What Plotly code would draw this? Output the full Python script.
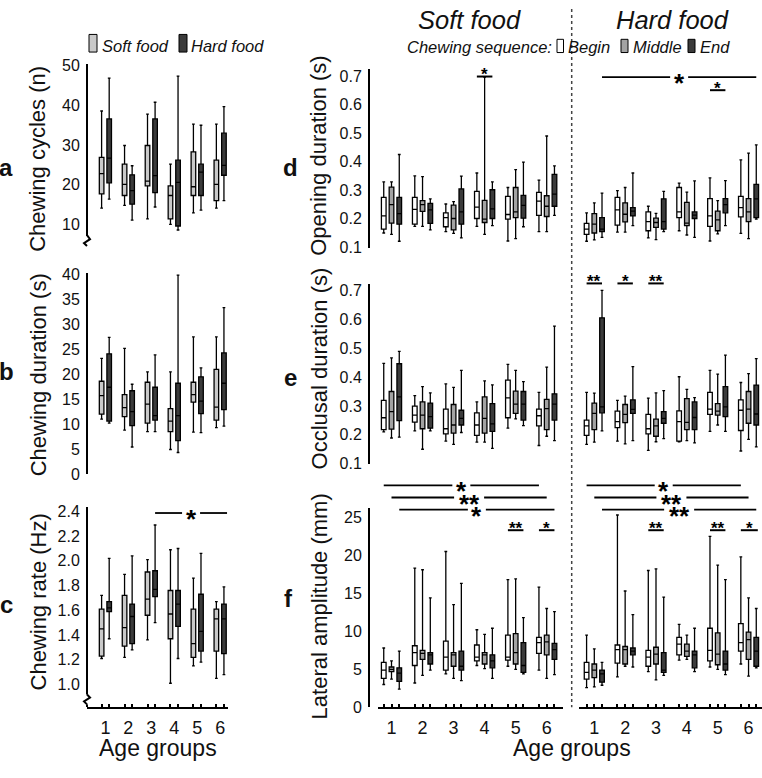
import plotly.graph_objects as go

W, H = 762, 778


def fx(px):
    return px / W


def fy(py):
    return 1 - py / H


AGE_GROUPS = [1, 2, 3, 4, 5, 6]
AGE_LABELS = ["1", "2", "3", "4", "5", "6"]

# each row: (lower whisker, Q1, median, Q3, upper whisker) for age groups 1..6
# a: chewing cycles (n)
a_soft = [(14.1, 17.7, 22.8, 26.9, 38.6), (14.8, 17.3, 20.1, 25.2, 29.9), (11.4, 19.7, 20.9, 29.9, 37.8),
          (10.0, 11.4, 17.3, 19.7, 25.2), (12.9, 17.3, 19.5, 28.3, 35.3), (14.1, 16.0, 20.1, 26.2, 35.3)]
a_hard = [(16.4, 20.5, 26.7, 36.6, 46.9), (11.1, 15.1, 18.5, 22.5, 24.8), (14.4, 18.0, 22.3, 36.6, 40.8),
          (8.6, 9.6, 20.6, 26.2, 47.4), (13.6, 17.3, 23.2, 25.2, 35.0), (16.0, 22.4, 24.9, 33.0, 39.7)]
# b: chewing duration (s)
b_soft = [(11.0, 12.0, 15.7, 18.6, 23.2), (8.8, 11.5, 13.3, 15.9, 25.2), (8.5, 10.2, 14.0, 18.4, 20.5),
          (4.9, 8.5, 10.6, 13.1, 20.5), (8.4, 14.4, 15.9, 18.4, 27.5), (9.3, 10.8, 13.4, 21.0, 27.5)]
b_hard = [(10.2, 10.6, 17.4, 24.1, 27.4), (5.4, 9.7, 12.5, 16.7, 18.0), (8.5, 10.8, 11.7, 17.4, 23.9),
          (4.3, 6.7, 11.7, 18.2, 39.9), (8.3, 12.1, 14.6, 19.5, 21.3), (9.6, 12.9, 18.2, 24.3, 33.4)]
# c: chewing rate (Hz)
c_soft = [(1.21, 1.23, 1.45, 1.61, 1.72), (1.22, 1.31, 1.46, 1.72, 1.89), (1.36, 1.56, 1.69, 1.91, 2.01),
          (1.01, 1.37, 1.57, 1.76, 2.09), (1.15, 1.22, 1.33, 1.61, 1.86), (1.05, 1.27, 1.53, 1.61, 1.67)]
c_hard = [(1.37, 1.59, 1.62, 1.67, 2.02), (1.28, 1.33, 1.55, 1.65, 2.04), (1.50, 1.71, 1.77, 1.92, 2.29),
          (1.21, 1.47, 1.65, 1.76, 2.10), (1.18, 1.27, 1.43, 1.73, 2.06), (1.08, 1.25, 1.53, 1.65, 1.79)]
# d: opening duration (s)
d_soft_begin = [(0.149, 0.163, 0.209, 0.274, 0.329), (0.172, 0.180, 0.232, 0.274, 0.350), (0.154, 0.171, 0.203, 0.220, 0.251),
                (0.172, 0.200, 0.240, 0.295, 0.360), (0.121, 0.198, 0.214, 0.278, 0.309), (0.154, 0.211, 0.261, 0.292, 0.335)]
d_soft_middle = [(0.144, 0.184, 0.249, 0.310, 0.329), (0.172, 0.225, 0.249, 0.263, 0.347), (0.148, 0.160, 0.200, 0.247, 0.259),
                 (0.144, 0.186, 0.198, 0.264, 0.697), (0.129, 0.203, 0.223, 0.309, 0.372), (0.154, 0.207, 0.243, 0.280, 0.490)]
d_soft_end = [(0.120, 0.180, 0.217, 0.274, 0.425), (0.160, 0.183, 0.230, 0.253, 0.269), (0.132, 0.180, 0.223, 0.304, 0.349),
              (0.175, 0.200, 0.234, 0.301, 0.329), (0.171, 0.201, 0.246, 0.281, 0.398), (0.211, 0.243, 0.286, 0.355, 0.385)]
d_hard_begin = [(0.120, 0.144, 0.163, 0.183, 0.220), (0.152, 0.177, 0.230, 0.274, 0.298), (0.132, 0.157, 0.189, 0.223, 0.243),
                (0.157, 0.203, 0.223, 0.309, 0.324), (0.121, 0.172, 0.209, 0.270, 0.343), (0.148, 0.206, 0.238, 0.278, 0.406)]
d_hard_middle = [(0.125, 0.149, 0.180, 0.217, 0.255), (0.152, 0.188, 0.215, 0.255, 0.309), (0.126, 0.169, 0.186, 0.201, 0.218),
                 (0.142, 0.175, 0.184, 0.257, 0.293), (0.146, 0.157, 0.195, 0.226, 0.263), (0.129, 0.189, 0.223, 0.270, 0.430)]
d_hard_end = [(0.134, 0.154, 0.163, 0.203, 0.289), (0.175, 0.209, 0.226, 0.238, 0.360), (0.154, 0.163, 0.189, 0.269, 0.295),
              (0.134, 0.200, 0.212, 0.223, 0.332), (0.175, 0.220, 0.249, 0.270, 0.333), (0.198, 0.203, 0.269, 0.320, 0.459)]
# e: occlusal duration (s)
e_soft_begin = [(0.210, 0.218, 0.259, 0.319, 0.447), (0.214, 0.244, 0.268, 0.299, 0.336), (0.178, 0.203, 0.221, 0.289, 0.376),
                (0.175, 0.198, 0.234, 0.276, 0.314), (0.223, 0.259, 0.328, 0.389, 0.444), (0.163, 0.231, 0.266, 0.289, 0.347)]
e_soft_middle = [(0.189, 0.220, 0.280, 0.350, 0.466), (0.150, 0.221, 0.268, 0.314, 0.367), (0.167, 0.206, 0.234, 0.305, 0.364),
                 (0.175, 0.206, 0.257, 0.331, 0.387), (0.255, 0.274, 0.306, 0.351, 0.423), (0.195, 0.218, 0.291, 0.323, 0.434)]
e_soft_end = [(0.192, 0.249, 0.331, 0.446, 0.489), (0.214, 0.223, 0.263, 0.310, 0.345), (0.208, 0.234, 0.257, 0.285, 0.423),
              (0.153, 0.212, 0.238, 0.308, 0.373), (0.232, 0.251, 0.306, 0.350, 0.384), (0.180, 0.251, 0.306, 0.342, 0.576)]
e_hard_begin = [(0.167, 0.198, 0.231, 0.251, 0.347), (0.178, 0.225, 0.246, 0.282, 0.319), (0.146, 0.203, 0.221, 0.271, 0.327),
                (0.176, 0.178, 0.246, 0.283, 0.401), (0.212, 0.271, 0.289, 0.347, 0.423), (0.144, 0.215, 0.285, 0.321, 0.381)]
e_hard_middle = [(0.175, 0.218, 0.274, 0.310, 0.344), (0.169, 0.242, 0.271, 0.305, 0.334), (0.176, 0.195, 0.231, 0.254, 0.345),
                 (0.180, 0.218, 0.243, 0.325, 0.357), (0.234, 0.268, 0.282, 0.308, 0.410), (0.184, 0.240, 0.289, 0.350, 0.412)]
e_hard_end = [(0.214, 0.276, 0.297, 0.605, 0.700), (0.180, 0.274, 0.288, 0.321, 0.436), (0.187, 0.240, 0.257, 0.280, 0.353),
              (0.172, 0.218, 0.260, 0.314, 0.329), (0.212, 0.263, 0.297, 0.367, 0.476), (0.158, 0.234, 0.272, 0.372, 0.464)]
# f: lateral amplitude (mm)
f_soft_begin = [(3.0, 3.8, 4.9, 5.9, 7.8), (3.2, 5.5, 7.2, 8.1, 18.3), (4.4, 4.9, 6.6, 8.7, 20.5),
                (5.5, 6.1, 6.6, 8.2, 10.2), (5.4, 6.2, 6.6, 9.5, 16.8), (4.9, 7.1, 8.5, 9.2, 15.8)]
f_soft_middle = [(3.7, 4.7, 5.0, 5.3, 6.1), (4.2, 6.3, 7.1, 7.5, 18.1), (3.8, 5.4, 6.9, 7.2, 13.5),
                 (5.1, 5.7, 6.9, 7.2, 9.6), (5.0, 5.7, 7.2, 9.7, 16.9), (3.8, 6.9, 8.6, 9.5, 13.0)]
f_soft_end = [(2.4, 3.4, 4.5, 5.2, 7.4), (4.9, 5.7, 6.9, 7.2, 14.4), (3.5, 4.9, 5.4, 7.4, 16.3),
              (3.8, 5.2, 6.1, 6.9, 10.4), (4.4, 4.6, 5.5, 8.5, 11.8), (4.3, 6.3, 7.6, 8.4, 12.6)]
f_hard_begin = [(2.6, 3.7, 4.6, 5.9, 9.5), (4.0, 5.8, 7.6, 8.2, 25.3), (4.7, 5.4, 6.6, 7.5, 18.0),
                (6.2, 6.9, 8.3, 9.2, 10.9), (5.3, 6.1, 7.5, 10.4, 22.5), (5.7, 7.4, 8.5, 11.0, 19.8)]
f_hard_middle = [(2.7, 3.9, 4.9, 5.7, 7.7), (5.4, 5.7, 7.6, 8.0, 15.3), (3.6, 5.7, 7.0, 7.9, 18.2),
                 (6.3, 6.7, 7.4, 8.3, 9.5), (5.0, 5.6, 7.0, 9.8, 18.7), (4.1, 6.3, 8.9, 9.9, 14.4)]
f_hard_end = [(2.9, 3.3, 4.4, 4.9, 5.9), (5.3, 6.9, 7.4, 7.8, 12.2), (4.2, 4.6, 4.9, 7.2, 14.5),
              (4.7, 5.2, 6.9, 7.4, 10.4), (4.3, 4.9, 5.7, 7.4, 16.8), (5.2, 5.4, 7.4, 9.2, 13.0)]

# significance brackets: (panel, (group, series), (group, series), y value, label, long line?)
SIGNIF = [
    ("c", (3, "hard"), (6, "end6"), 2.387, "*", True),
    ("d_soft", (4, "begin"), (4, "end"), 0.699, "*", False),
    ("d_hard", (1, "end"), (6, "end"), 0.697, "*", True),
    ("d_hard", (5, "begin"), (5, "end"), 0.651, "*", False),
    ("e_hard", (1, "begin"), (1, "end"), 0.724, "**", False),
    ("e_hard", (2, "begin"), (2, "end"), 0.724, "*", False),
    ("e_hard", (3, "begin"), (3, "end"), 0.724, "**", False),
    ("f_soft", (1, "begin"), (6, "begin"), 29.2, "*", True),
    ("f_soft", (1, "middle"), (6, "middle"), 27.6, "**", True),
    ("f_soft", (1, "end"), (6, "end"), 26.0, "*", True),
    ("f_soft", (5, "begin"), (5, "end"), 23.3, "**", False),
    ("f_soft", (6, "begin"), (6, "end"), 23.3, "*", False),
    ("f_hard", (1, "begin"), (6, "begin"), 29.2, "*", True),
    ("f_hard", (1, "middle"), (6, "middle"), 27.6, "**", True),
    ("f_hard", (1, "end"), (6, "end"), 26.0, "**", True),
    ("f_hard", (3, "begin"), (3, "end"), 23.3, "**", False),
    ("f_hard", (5, "begin"), (5, "end"), 23.3, "**", False),
    ("f_hard", (6, "begin"), (6, "end6"), 23.3, "*", False),
]

# ---------------- styling / geometry ----------------
FONT = "Liberation Sans, Arial, Helvetica, sans-serif"
INK = "#111111"
COLORS = {"soft": "#c9c9c9", "hard": "#3b3b3b", "begin": "#ffffff", "middle": "#a3a3a3", "end": "#3b3b3b"}
OFFSETS = {"soft": -0.165, "hard": 0.165, "begin": -0.25, "middle": 0.0, "end": 0.25, "end6": 0.30}

# x sides: (domain left px, domain right px, px of group 1, px per group)
XSIDE = {"L": (87, 228, 105.4, 22.95), "S": (378, 563, 391.5, 31.04), "H": (579, 762, 594.3, 30.85)}
# panels: axis number, side, y-domain top px (= axis line top), bottom px, two (value, px) references
PANELS = {
    "a": (1, "L", 58, 234, (50, 60), (10, 222)),
    "b": (2, "L", 271.5, 477.3, (40, 273.3), (0, 476.7)),
    "c": (3, "L", 510, 715, (2.4, 515), (1.0, 691.7)),
    "d_soft": (4, "S", 63, 246, (0.7, 70.7), (0.1, 245)),
    "e_soft": (5, "S", 282.7, 467, (0.7, 289.3), (0.1, 466.3)),
    "f_soft": (6, "S", 511.7, 715, (25, 521), (0, 715)),
    "d_hard": (7, "H", 63, 246, (0.7, 70.7), (0.1, 245)),
    "e_hard": (8, "H", 282.7, 467, (0.7, 289.3), (0.1, 466.3)),
    "f_hard": (9, "H", 511.7, 715, (25, 521), (0, 715)),
}
YTICKS = {
    "a": ([10, 20, 30, 40, 50], None, 87),
    "b": ([0, 5, 10, 15, 20, 25, 30, 35, 40], None, 87),
    "c": ([1.0, 1.2, 1.4, 1.6, 1.8, 2.0, 2.2, 2.4], ".1f", 87),
    "d_soft": ([0.1, 0.2, 0.3, 0.4, 0.5, 0.6, 0.7], ".1f", 369),
    "e_soft": ([0.1, 0.2, 0.3, 0.4, 0.5, 0.6, 0.7], ".1f", 369),
    "f_soft": ([0, 5, 10, 15, 20, 25], None, 369),
}
XAXIS_SHOWN = {"c", "f_soft", "f_hard"}


def ax_names(n):
    return ("x" if n == 1 else f"x{n}"), ("y" if n == 1 else f"y{n}")


def lay_names(n):
    return ("xaxis" if n == 1 else f"xaxis{n}"), ("yaxis" if n == 1 else f"yaxis{n}")


def value_to_py(panel, v):
    _, _, _, _, (v1, p1), (v2, p2) = PANELS[panel]
    k = (p2 - p1) / (v1 - v2)
    return p2 - (v - v2) * k


fig = go.Figure()

SERIES = [
    ("a", "soft", a_soft), ("a", "hard", a_hard),
    ("b", "soft", b_soft), ("b", "hard", b_hard),
    ("c", "soft", c_soft), ("c", "hard", c_hard),
    ("d_soft", "begin", d_soft_begin), ("d_soft", "middle", d_soft_middle), ("d_soft", "end", d_soft_end),
    ("d_hard", "begin", d_hard_begin), ("d_hard", "middle", d_hard_middle), ("d_hard", "end", d_hard_end),
    ("e_soft", "begin", e_soft_begin), ("e_soft", "middle", e_soft_middle), ("e_soft", "end", e_soft_end),
    ("e_hard", "begin", e_hard_begin), ("e_hard", "middle", e_hard_middle), ("e_hard", "end", e_hard_end),
    ("f_soft", "begin", f_soft_begin), ("f_soft", "middle", f_soft_middle), ("f_soft", "end", f_soft_end),
    ("f_hard", "begin", f_hard_begin), ("f_hard", "middle", f_hard_middle), ("f_hard", "end", f_hard_end),
]

for panel, series, stats in SERIES:
    n, side = PANELS[panel][0], PANELS[panel][1]
    xa, ya = ax_names(n)
    bw = 0.2 if side == "L" else 0.15
    fig.add_trace(go.Box(
        x=[g + OFFSETS[series] for g in AGE_GROUPS],
        lowerfence=[s[0] for s in stats], q1=[s[1] for s in stats], median=[s[2] for s in stats],
        q3=[s[3] for s in stats], upperfence=[s[4] for s in stats],
        width=bw, whiskerwidth=0.6, boxpoints=False,
        fillcolor=COLORS[series], line=dict(color="#000000", width=1.3),
        xaxis=xa, yaxis=ya, showlegend=False, hoverinfo="skip",
    ))

layout_axes = {}
for panel, (n, side, ytop, ybot, (v1, p1), (v2, p2)) in PANELS.items():
    xl, yl = lay_names(n)
    xa, ya = ax_names(n)
    px0, px1, g1, step = XSIDE[side]
    k = (p2 - p1) / (v1 - v2)  # px per unit
    yr = [v2 - (ybot - p2) / k, v1 + (p1 - ytop) / k]
    xr = [1 + (px0 - g1) / step, 1 + (px1 - g1) / step]
    xcfg = dict(domain=[fx(px0), fx(px1)], range=xr, anchor=ya, showgrid=False, zeroline=False, fixedrange=True)
    if panel in XAXIS_SHOWN:
        offs = ["soft", "hard"] if side == "L" else ["begin", "middle", "end"]
        xcfg.update(showline=True, linecolor="#000000", linewidth=2, ticks="",
                    tickmode="array", tickvals=AGE_GROUPS, ticktext=AGE_LABELS,
                    tickfont=dict(size=18, color=INK, family=FONT), ticklabelstandoff=3,
                    minor=dict(tickmode="array", tickvals=[g + OFFSETS[o] for g in AGE_GROUPS for o in offs],
                               ticks="inside", ticklen=3, tickwidth=1.5, tickcolor="#000000"))
    else:
        xcfg.update(visible=False)
    ycfg = dict(domain=[fy(ybot), fy(ytop)], range=yr, showgrid=False, zeroline=False, fixedrange=True)
    if panel in YTICKS:
        tv, fmt, pos = YTICKS[panel]
        ycfg.update(anchor="free", position=fx(pos), showline=True, linecolor="#000000", linewidth=2,
                    ticks="", tickmode="array", tickvals=tv,
                    ticklabelstandoff=3, tickfont=dict(size=16, color=INK, family=FONT))
        if fmt:
            ycfg["tickformat"] = fmt
    else:
        ycfg.update(visible=False, anchor=xa)
    layout_axes[xl] = xcfg
    layout_axes[yl] = ycfg

shapes = []
annotations = []


def pix_path(points):
    return "M " + " L ".join(f"{fx(a):.5f},{fy(b):.5f}" for a, b in points)


# axis breaks: white gap + zigzag
shapes.append(dict(type="rect", xref="paper", yref="paper", x0=fx(84), x1=fx(90), y0=fy(712), y1=fy(702),
                   fillcolor="#ffffff", line=dict(width=0), layer="above"))
for pts in [[(87, 233), (90, 237), (84, 241), (87, 244)],
            [(87, 702), (90, 705), (84, 709), (87, 712)]]:
    shapes.append(dict(type="path", xref="paper", yref="paper", path=pix_path(pts), layer="above",
                       line=dict(color="#000000", width=2)))

# separator
shapes.append(dict(type="line", xref="paper", yref="paper", x0=fx(571.7), x1=fx(571.7), y0=fy(2), y1=fy(715),
                   line=dict(color="#444444", width=1.5, dash="dot")))

# significance markers
for panel, (g0, s0), (g1_, s1), yv, lab, big in SIGNIF:
    n, side = PANELS[panel][0], PANELS[panel][1]
    xa, ya = ax_names(n)
    step = XSIDE[side][3]
    xa0 = g0 + OFFSETS[s0]
    xa1 = g1_ + OFFSETS[s1]
    xc = (xa0 + xa1) / 2
    yp = fy(value_to_py(panel, yv))
    if big:
        gap = (9 if lab == "*" else 15) / step
        for (u0, u1) in [(xa0, xc - gap), (xc + gap, xa1)]:
            shapes.append(dict(type="line", xref=xa, yref="paper", x0=u0, x1=u1, y0=yp, y1=yp,
                               line=dict(color="#000000", width=1.8)))
        annotations.append(dict(x=xc, y=yp, xref=xa, yref="paper", text=f"<b>{lab}</b>", showarrow=False,
                                xanchor="center", yanchor="middle", yshift=-6,
                                font=dict(size=26, color="#000000", family=FONT)))
    else:
        shapes.append(dict(type="line", xref=xa, yref="paper", x0=xa0, x1=xa1, y0=yp, y1=yp,
                           line=dict(color="#000000", width=2)))
        annotations.append(dict(x=xc, y=yp, xref=xa, yref="paper", text=f"<b>{lab}</b>", showarrow=False,
                                xanchor="center", yanchor="middle", yshift=2,
                                font=dict(size=17, color="#000000", family=FONT)))


def txt(px, py, s, size, xanchor="center", angle=0):
    annotations.append(dict(x=fx(px), y=fy(py), xref="paper", yref="paper", text=s, showarrow=False,
                            xanchor=xanchor, yanchor="middle", textangle=angle, borderpad=0,
                            font=dict(size=size, color=INK, family=FONT)))


# titles
txt(469, 13, "<i>Soft food</i>", 25.5)
txt(672, 13, "<i>Hard food</i>", 25.5)
# legends
txt(553, 41, "<i>Chewing sequence:</i>", 16.5, xanchor="right")
txt(567, 41, "<i>Begin</i>", 16.5, xanchor="left")
txt(631.5, 41, "<i>Middle</i>", 16.5, xanchor="left")
txt(699, 41, "<i>End</i>", 16.5, xanchor="left")
txt(101, 40, "<i>Soft food</i>", 16.5, xanchor="left")
txt(190, 40, "<i>Hard food</i>", 16.5, xanchor="left")
for (x0p, x1p, y0p, y1p, col) in [(89, 97, 28, 46, COLORS["soft"]), (179, 187, 28, 46, COLORS["hard"]),
                                  (557, 563.5, 33, 46.5, COLORS["begin"]), (621, 628, 33, 46.5, COLORS["middle"]),
                                  (688, 695, 33, 46.5, COLORS["end"])]:
    shapes.append(dict(type="rect", xref="paper", yref="paper", x0=fx(x0p), x1=fx(x1p), y0=fy(y1p), y1=fy(y0p),
                       fillcolor=col, line=dict(color="#000000", width=1)))

# panel letters
for (px, py, s) in [(6, 164, "a"), (6.5, 372, "b"), (6.5, 610, "c"), (290, 164, "d"), (290, 378, "e"), (288, 604, "f")]:
    txt(px, py, f"<b>{s}</b>", 24)

# y titles
for (px, py, s) in [(38, 155, "Chewing cycles (n)"), (38, 376, "Chewing duration (s)"), (38, 608, "Chewing rate (Hz)"),
                    (319, 152, "Opening duration (s)"), (319, 369, "Occlusal duration (s)"),
                    (319, 612, "Lateral amplitude (mm)")]:
    txt(px, py, s, 22, angle=-90)

# x titles
txt(158, 757, "Age groups", 23)
txt(571.7, 757, "Age groups", 23)

fig.update_layout(
    width=W, height=H, margin=dict(l=0, r=0, t=0, b=0),
    paper_bgcolor="#ffffff", plot_bgcolor="rgba(0,0,0,0)",
    boxmode="overlay", showlegend=False,
    font=dict(family=FONT, color=INK),
    shapes=shapes, annotations=annotations,
    **layout_axes,
)

fig.write_html("out.html", config={"displayModeBar": False},
               post_script="document.body.style.margin='0px';document.body.style.overflow='hidden';")
